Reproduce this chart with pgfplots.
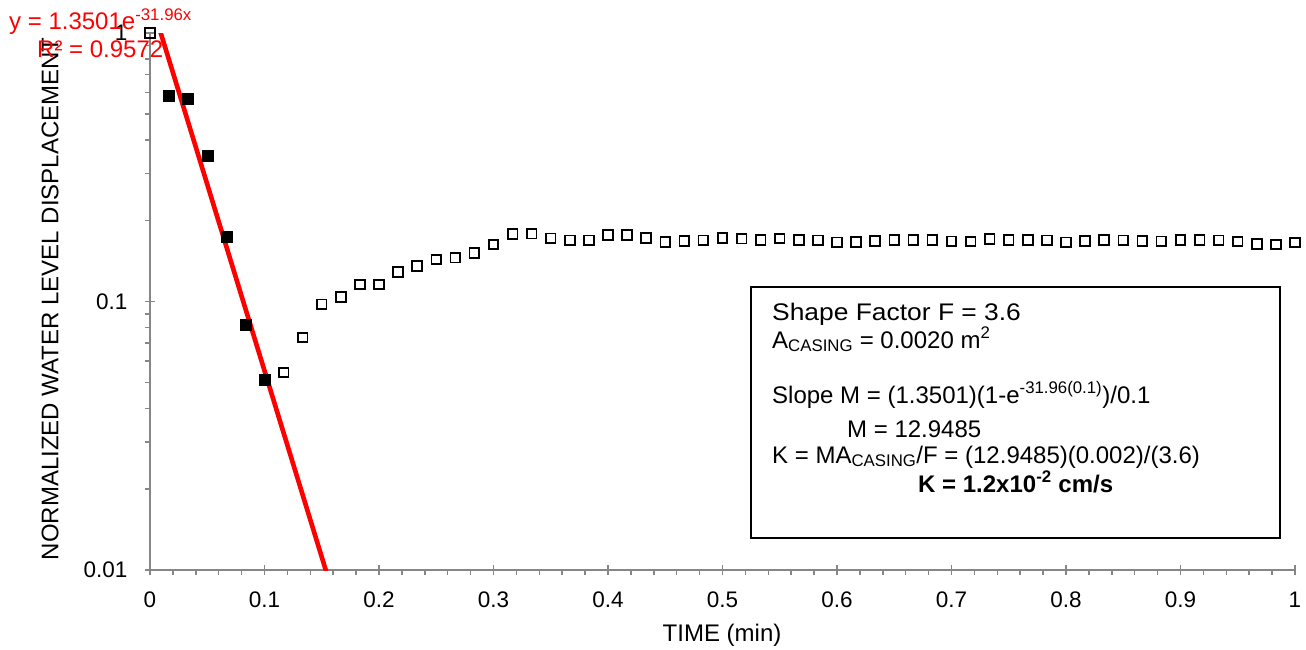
\documentclass[border=0pt]{standalone}
\usepackage{fontspec}
\setmainfont{Liberation Sans}
\usepackage{graphicx}
\usepackage{pgfplots}
\pgfplotsset{compat=1.18}
\definecolor{axgray}{RGB}{134,134,134}
\begin{document}
\begin{tikzpicture}
\begin{axis}[
  at={(150pt,79pt)}, anchor=south west,
  width=1145pt, height=537pt, scale only axis,
  xmin=0, xmax=1, ymode=log, ymin=0.01, ymax=1,
  axis x line=bottom, axis y line=left,
  axis line style={axgray, line width=1.5pt, -},
  xtick={0,0.1,0.2,0.3,0.4,0.5,0.6,0.7,0.8,0.9,1},
  xticklabels={0,0.1,0.2,0.3,0.4,0.5,0.6,0.7,0.8,0.9,1},
  minor xtick={0.02,0.04,0.06,0.08,0.12,0.14,0.16,0.18,0.22,0.24,0.26,0.28,0.32,0.34,0.36,0.38,0.42,0.44,0.46,0.48,0.52,0.54,0.56,0.58,0.62,0.64,0.66,0.68,0.72,0.74,0.76,0.78,0.82,0.84,0.86,0.88,0.92,0.94,0.96,0.98},
  ytick={0.01,0.1,1}, yticklabels={0.01,0.1,1},
  minor ytick={0.02,0.03,0.04,0.05,0.06,0.07,0.08,0.09,0.2,0.3,0.4,0.5,0.6,0.7,0.8,0.9},
  tick style={axgray, line width=1.5pt},
  tick align=center,
  major tick length=10pt, minor tick length=5pt,
  minor y tick style={xshift=-2.5pt},
  minor x tick style={yshift=-2.5pt},
  /pgf/number format/assume math mode=true,
  tick label style={font=\fontsize{22.5}{26}\selectfont, black},
  xticklabel style={yshift=-13pt},
  yticklabel style={xshift=-14pt},
  xlabel={TIME (min)},
  ylabel={NORMALIZED WATER LEVEL DISPLACEMENT},
  label style={font=\fontsize{24}{28}\selectfont},
  xlabel style={at={(axis description cs:0.4996,-0.121)}, anchor=center},
  ylabel style={at={(axis description cs:-0.0873,0.505)}, anchor=center},
]
\addplot[only marks, mark=square, mark size=4.8pt, mark options={draw=black, fill=white, line width=1.8pt}] coordinates {
(0,1.0) (0.1167,0.0544) (0.1333,0.0734) (0.1500,0.0977) (0.1667,0.1040)
(0.1833,0.1157) (0.2000,0.1157) (0.2167,0.1286) (0.2333,0.1358) (0.2500,0.1433)
(0.2667,0.1457) (0.2833,0.1518) (0.3000,0.1630) (0.3167,0.1787) (0.3333,0.1790)
(0.3500,0.1720) (0.3667,0.1690) (0.3833,0.1690) (0.4000,0.1770) (0.4167,0.1770)
(0.4333,0.1727) (0.4500,0.1668) (0.4667,0.1680) (0.4833,0.1690) (0.5000,0.1727)
(0.5167,0.1715) (0.5333,0.1697) (0.5500,0.1717) (0.5667,0.1697) (0.5833,0.1690)
(0.6000,0.1663) (0.6167,0.1665) (0.6333,0.1680) (0.6500,0.1697) (0.6667,0.1697)
(0.6833,0.1697) (0.7000,0.1675) (0.7167,0.1673) (0.7333,0.1710) (0.7500,0.1697)
(0.7667,0.1697) (0.7833,0.1690) (0.8000,0.1663) (0.8167,0.1680) (0.8333,0.1697)
(0.8500,0.1690) (0.8667,0.1680) (0.8833,0.1675) (0.9000,0.1697) (0.9167,0.1697)
(0.9333,0.1690) (0.9500,0.1673) (0.9667,0.1640) (0.9833,0.1630) (1.0000,0.1660)
};
\addplot[only marks, mark=square*, mark size=5.5pt, mark options={draw=black, fill=black}] coordinates {
(0.0167,0.585) (0.0333,0.570) (0.0500,0.350) (0.0667,0.175) (0.0833,0.0821) (0.1000,0.0512)
};
\addplot[red, line width=4.6pt, no marks] coordinates {(0,1.3501) (0.16,0.00812)};
\end{axis}
\node[anchor=base west, red, font=\fontsize{24}{28}\selectfont, inner sep=0pt] at (9pt,619pt) {y = 1.3501e\textsuperscript{-31.96x}};
\node[anchor=base west, red, font=\fontsize{24}{28}\selectfont, inner sep=0pt] at (37pt,591pt) {R² = 0.9572};
\draw[black, line width=1.2pt] (751pt,362pt) rectangle (1280pt,111pt);
\begin{scope}[every node/.style={anchor=base west, inner sep=0pt, font=\fontsize{24}{28}\selectfont}]
\node at (772pt,329pt) {\scalebox{1.1}[1]{Shape Factor F = 3.6}};
\node at (772pt,301pt) {A\textsubscript{CASING} = 0.0020 m\textsuperscript{2}};
\node at (772pt,246pt) {Slope M = (1.3501)(1-e\textsuperscript{-31.96(0.1)})/0.1};
\node at (847pt,212pt) {M = 12.9485};
\node at (772pt,186pt) {K = MA\textsubscript{CASING}/F = (12.9485)(0.002)/(3.6)};
\node at (918pt,157pt) {\textbf{K = 1.2x10\textsuperscript{-2} cm/s}};
\end{scope}
\pgfresetboundingbox
\useasboundingbox (0pt,0pt) rectangle (1306pt,649pt);
\end{tikzpicture}
\end{document}
